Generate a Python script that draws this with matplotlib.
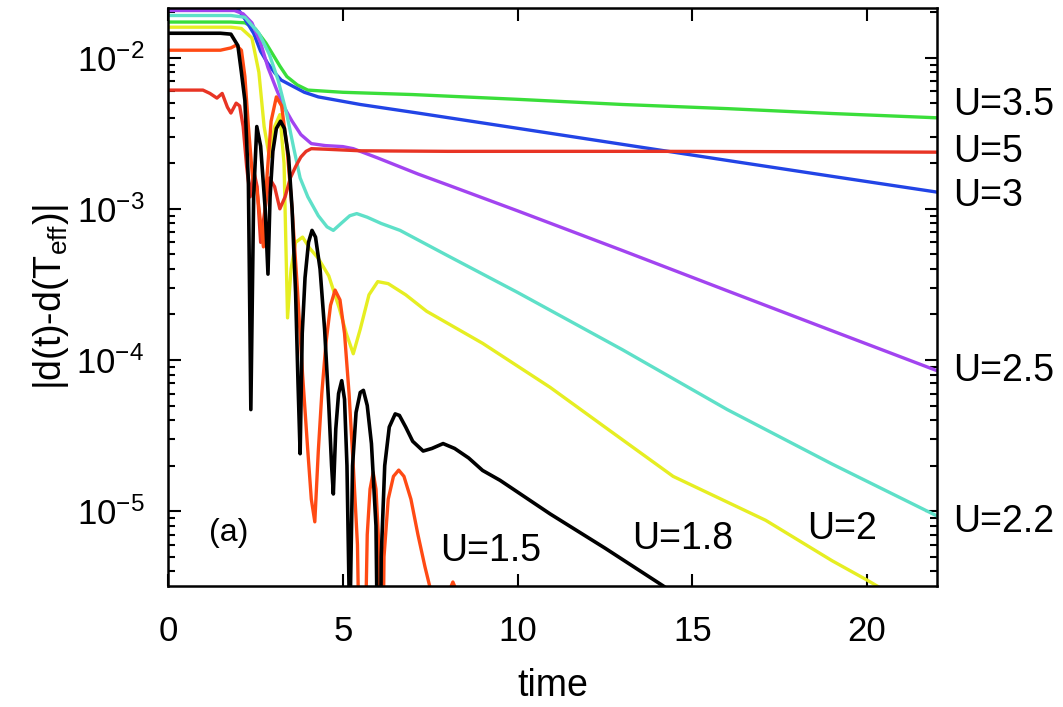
import matplotlib
matplotlib.use("Agg")
import matplotlib.pyplot as plt
import matplotlib.ticker as mticker

plt.rcParams["font.family"] = ["Liberation Sans", "DejaVu Sans"]
plt.rcParams["mathtext.fontset"] = "custom"
plt.rcParams["mathtext.rm"] = "Liberation Sans"
plt.rcParams["mathtext.it"] = "Liberation Sans:italic"
plt.rcParams["axes.unicode_minus"] = False

# --- data: time vs |d(t)-d(T_eff)| ---
t_u35 = [0, 1.8, 2.2, 2.5, 2.8, 3.0, 3.2, 3.4, 3.7, 4.0, 5, 7, 10, 13, 16, 19, 22]
d_u35 = [0.0172, 0.0172, 0.017, 0.0155, 0.0125, 0.0105, 0.0088, 0.0075, 0.0066, 0.0061,
         0.0059, 0.0057, 0.0053, 0.0049, 0.0046, 0.00427, 0.0040]

t_u3 = [0, 1.8, 2.0, 2.2, 2.45, 2.65, 2.85, 3.06, 3.24, 3.5, 3.9, 4.3, 5.5, 7.15,
        10, 13, 16, 19, 22]
d_u3 = [0.023, 0.023, 0.021, 0.018, 0.0145, 0.011, 0.0092, 0.0079, 0.0071, 0.0066,
        0.0059, 0.0055, 0.0049, 0.0043, 0.00341, 0.00267, 0.00209, 0.00164, 0.00129]

t_u25 = [0, 1.9, 2.15, 2.4, 2.65, 2.86, 3.1, 3.3, 3.55, 3.8, 4.1, 4.5, 5.0, 5.3, 6.0,
         7.15, 8, 10, 13, 16, 19, 22]
d_u25 = [0.0205, 0.0205, 0.0195, 0.017, 0.0125, 0.0086, 0.0062, 0.0048, 0.0038, 0.0031,
         0.0027, 0.00262, 0.00258, 0.0025, 0.00217, 0.0017, 0.00144, 9.7e-4, 5.3e-4,
         2.87e-4, 1.56e-4, 8.5e-5]

t_u22 = [0, 1.8, 2.2, 2.6, 2.9, 3.15, 3.4, 3.6, 3.78, 4.0, 4.3, 4.55, 4.73, 4.95, 5.2,
         5.4, 5.7, 6.1, 6.64, 8, 10, 13, 16, 19, 22]
d_u22 = [0.019, 0.019, 0.0185, 0.0145, 0.0105, 0.0071, 0.0042, 0.0025, 0.0016, 1.2e-3,
         9e-4, 7.6e-4, 7.2e-4, 8e-4, 9e-4, 9.3e-4, 8.8e-4, 8e-4, 7.2e-4, 4.9e-4, 2.8e-4,
         1.17e-4, 4.7e-5, 2.05e-5, 9.3e-6]

t_u2 = [0, 1.8, 2.1, 2.4, 2.6, 2.75, 2.9, 3.05, 3.2, 3.32, 3.42, 3.52, 3.65, 3.85, 4.05,
        4.3, 4.6, 4.9, 5.1, 5.3, 5.5, 5.75, 6.0, 6.3, 6.8, 7.4, 9.0, 10.93, 12.5, 14.45,
        17.1, 19.0, 20.0, 20.6]
d_u2 = [0.0159, 0.0159, 0.0156, 0.0135, 0.008, 0.0035, 0.0022, 0.0035, 0.0042, 0.002,
        1.9e-4, 4e-4, 6e-4, 6.5e-4, 5.5e-4, 4.7e-4, 3.6e-4, 2.2e-4, 1.5e-4, 1.1e-4,
        1.6e-4, 2.7e-4, 3.3e-4, 3.2e-4, 2.7e-4, 2.1e-4, 1.29e-4, 6.6e-5, 3.6e-5, 1.7e-5,
        8.7e-6, 4.7e-6, 3.5e-6, 2.9e-6]

t_u5 = [0, 1.0, 1.2, 1.4, 1.55, 1.7, 1.8, 1.95, 2.05, 2.15, 2.25, 2.35, 2.45, 2.55, 2.65,
        2.75, 2.9, 3.05, 3.2, 3.35, 3.5, 3.65, 3.8, 3.95, 4.1, 4.5, 5.5, 8, 11, 14, 17,
        20, 22]
d_u5 = [0.0061, 0.0061, 0.0058, 0.0054, 0.0058, 0.0047, 0.0043, 0.0050, 0.0048, 0.0035,
        0.0019, 1.2e-3, 1.8e-3, 1.4e-3, 6e-4, 9e-4, 1.6e-3, 1.4e-3, 1.0e-3, 1.2e-3,
        1.6e-3, 1.9e-3, 2.2e-3, 2.4e-3, 2.5e-3, 2.48e-3, 2.42e-3, 2.40e-3, 2.40e-3,
        2.40e-3, 2.39e-3, 2.38e-3, 2.37e-3]

t_u15 = [0, 1.5, 1.8, 1.95, 2.1, 2.2, 2.3, 2.42, 2.55, 2.65, 2.73, 2.82, 2.95, 3.1, 3.25,
         3.4, 3.55, 3.7, 3.85, 4.0, 4.1, 4.2, 4.3, 4.4, 4.52, 4.65, 4.78, 4.92, 5.05,
         5.18, 5.3, 5.42, 5.55, 5.7, 5.78, 5.87, 5.95, 6.03, 6.1, 6.18, 6.3, 6.45, 6.6,
         6.75, 6.95, 7.15, 7.35, 7.5, 7.75, 8.0, 8.15, 8.3, 8.5]
d_u15 = [0.0112, 0.0112, 0.0116, 0.0121, 0.0112, 0.0075, 0.0035, 0.0016, 1.3e-3, 8e-4,
         5.6e-4, 1.5e-3, 3.8e-3, 5.5e-3, 4.8e-3, 2.6e-3, 1.0e-3, 3e-4, 8e-5, 2.5e-5,
         1.2e-5, 8.5e-6, 2.5e-5, 6e-5, 1.3e-4, 2.3e-4, 2.9e-4, 2.5e-4, 1.5e-4, 6e-5,
         2e-5, 6e-6, 1e-7, 7e-6, 1.4e-5, 1.8e-5, 1.4e-5, 6e-6, 1e-7, 5e-6, 1.2e-5,
         1.7e-5, 1.87e-5, 1.7e-5, 1.2e-5, 7e-6, 4.3e-6, 3.1e-6, 1e-7, 2.8e-6, 3.4e-6,
         2.8e-6, 1e-7]

t_u18 = [0, 1.5, 1.8, 2.0, 2.1, 2.2, 2.3, 2.37, 2.45, 2.54, 2.65, 2.78, 2.86, 2.92, 3.0,
         3.1, 3.22, 3.33, 3.45, 3.55, 3.65, 3.72, 3.78, 3.84, 3.92, 4.02, 4.12, 4.22,
         4.35, 4.48, 4.6, 4.68, 4.73, 4.8, 4.88, 4.97, 5.05, 5.12, 5.18, 5.2, 5.22, 5.28,
         5.38, 5.5, 5.59, 5.7, 5.82, 5.95, 6.05, 6.1, 6.2, 6.33, 6.5, 6.62, 6.8, 7.0,
         7.3, 7.55, 7.87, 8.2, 8.6, 9.0, 9.5, 10.93, 12.5, 14.17, 14.6]
d_u18 = [0.0145, 0.0145, 0.0143, 0.012, 0.008, 0.0052, 0.0015, 4.7e-5, 1.2e-3, 3.5e-3,
         2.6e-3, 1.0e-3, 3.7e-4, 1.2e-3, 2.4e-3, 3.4e-3, 3.8e-3, 3.4e-3, 2.2e-3, 1e-3,
         2.8e-4, 7e-5, 2.4e-5, 1.5e-4, 3.5e-4, 6e-4, 7.2e-4, 6.5e-4, 4e-4, 1.6e-4, 5e-5,
         2e-5, 1.3e-5, 3.5e-5, 6e-5, 7.3e-5, 5.5e-5, 2e-5, 3e-6, 1e-7, 3e-6, 2e-5, 4.5e-5,
         6.1e-5, 6.3e-5, 5e-5, 2.8e-5, 8e-6, 1e-7, 5e-6, 2e-5, 3.6e-5, 4.4e-5, 4.3e-5,
         3.6e-5, 2.9e-5, 2.5e-5, 2.6e-5, 2.8e-5, 2.6e-5, 2.25e-5, 1.86e-5, 1.6e-5, 9.6e-6,
         5.7e-6, 3.2e-6, 2.7e-6]

x_ticks = [0, 5, 10, 15, 20]

# (t, d, colour, width) in drawing order, black on top
curves = [
    (t_u35, d_u35, "#3ade3a", 2.4),
    (t_u3, d_u3, "#2244e6", 2.4),
    (t_u25, d_u25, "#a244f0", 2.4),
    (t_u22, d_u22, "#5ee0c8", 2.4),
    (t_u2, d_u2, "#e6ee22", 2.4),
    (t_u5, d_u5, "#e83424", 2.4),
    (t_u15, d_u15, "#ff4a14", 2.4),
    (t_u18, d_u18, "black", 2.6),
]

W, H = 1063, 707
fig = plt.figure(figsize=(W / 100, H / 100), dpi=100)
ax = fig.add_axes([168 / W, 1 - 586 / H, (937 - 168) / W, (586 - 8) / H])

for t, d, c, lw in curves:
    ax.plot(t, d, color=c, lw=lw, solid_joinstyle="round")

ax.set_yscale("log")
ax.set_xlim(0, 22)
ax.set_ylim(3.2e-6, 0.0213)
ax.set_xticks(x_ticks)
ax.yaxis.set_minor_formatter(mticker.NullFormatter())

ax.tick_params(which="both", direction="in", top=True, right=True, width=1.5)
ax.tick_params(which="major", length=9, labelsize=25)
ax.tick_params(axis="x", pad=21)
ax.tick_params(axis="y", pad=17)
ax.tick_params(which="minor", length=5)
for s in ax.spines.values():
    s.set_linewidth(1.8)

ax.set_xlabel("time", fontsize=27, labelpad=14)
ax.set_ylabel(r"|d(t)-d(T$_{\mathregular{eff}}$)|", fontsize=27, labelpad=4)

# curve labels
lab_fs = 27
fig.text(953 / W, 1 - 105 / H, "U=3.5", fontsize=lab_fs, va="center")
fig.text(953 / W, 1 - 152 / H, "U=5", fontsize=lab_fs, va="center")
fig.text(953 / W, 1 - 196 / H, "U=3", fontsize=lab_fs, va="center")
fig.text(953 / W, 1 - 371 / H, "U=2.5", fontsize=lab_fs, va="center")
fig.text(953 / W, 1 - 522 / H, "U=2.2", fontsize=lab_fs, va="center")
fig.text(842 / W, 1 - 529 / H, "U=2", fontsize=lab_fs, ha="center", va="center")
fig.text(683 / W, 1 - 539 / H, "U=1.8", fontsize=lab_fs, ha="center", va="center")
fig.text(491 / W, 1 - 551 / H, "U=1.5", fontsize=lab_fs, ha="center", va="center")
fig.text(229 / W, 1 - 533 / H, "(a)", fontsize=23, ha="center", va="center")

fig.savefig("out.png", dpi=100)
